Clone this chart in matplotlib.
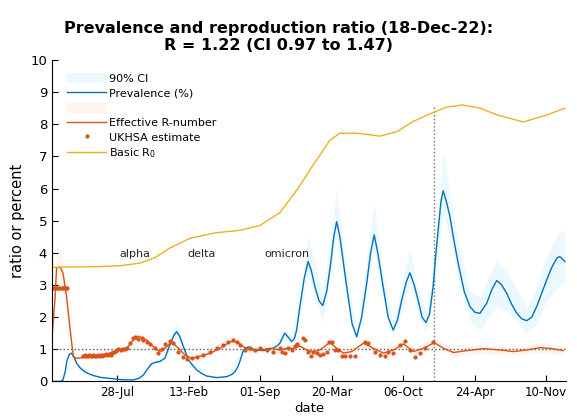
import numpy as np
import matplotlib
matplotlib.use('Agg')
import matplotlib.pyplot as plt
import matplotlib.dates as mdates
from matplotlib.patches import Patch
from matplotlib.lines import Line2D

# x values are days since 01-Jan-2020
prev_days = [26, 50, 57, 63, 68, 75, 81, 88, 96, 105, 118, 133, 147, 161, 185, 208, 230, 254,
             270, 282, 293, 305, 317, 328, 342, 355, 368, 375, 383, 394, 408, 420, 431, 445,
             459, 487, 515, 530, 538, 546, 552, 562, 576, 594, 618, 646, 658, 664, 672, 678,
             687, 697, 705, 711, 720, 732, 743, 752, 762, 774, 784, 795, 805, 815, 823, 832,
             851, 866, 879, 893, 907, 918, 928, 938, 953, 967, 981, 993, 1005, 1018, 1028,
             1040, 1051, 1062, 1073, 1083, 1093, 1100, 1108, 1115, 1121, 1130, 1140, 1151,
             1163, 1180, 1196, 1210, 1224, 1243, 1257, 1271, 1285, 1299, 1313, 1327, 1341,
             1355, 1369, 1383, 1397, 1411, 1425, 1440, 1448, 1462]
prev = [0.0, 0.0, 0.05, 0.3, 0.65, 0.85, 0.88, 0.75, 0.55, 0.42, 0.3, 0.22, 0.17, 0.13, 0.1,
        0.07, 0.05, 0.05, 0.1, 0.2, 0.38, 0.55, 0.6, 0.62, 0.72, 1.1, 1.45, 1.55, 1.42, 1.08,
        0.67, 0.5, 0.36, 0.25, 0.17, 0.12, 0.15, 0.22, 0.3, 0.45, 0.62, 0.98, 1.08, 0.98, 0.96,
        1.04, 1.12, 1.19, 1.38, 1.5, 1.38, 1.24, 1.35, 1.6, 2.33, 3.2, 3.73, 3.45, 2.95, 2.5,
        2.36, 2.8, 3.57, 4.5, 4.97, 4.5, 2.95, 1.8, 1.39, 2.0, 3.05, 4.0, 4.56, 4.0, 2.95, 2.0,
        1.6, 1.9, 2.53, 3.1, 3.38, 3.0, 2.53, 2.0, 1.83, 2.1, 2.95, 3.9, 4.81, 5.6, 5.93, 5.6,
        5.13, 4.4, 3.68, 2.8, 2.33, 2.15, 2.12, 2.43, 2.85, 3.14, 3.0, 2.74, 2.4, 2.12, 1.95,
        1.89, 2.0, 2.33, 2.75, 3.16, 3.55, 3.85, 3.88, 3.73]

ci_days = [26, 57, 81, 105, 160, 254, 305, 342, 375, 408, 459, 515, 562, 594, 646, 678, 697,
           720, 743, 784, 823, 851, 879, 928, 953, 981, 1028, 1051, 1073, 1093, 1121, 1140,
           1163, 1196, 1224, 1271, 1299, 1355, 1383, 1411, 1448, 1462]
prev_lo = [0, 0.03, 0.8, 0.38, 0.11, 0.04, 0.5, 0.65, 1.38, 0.6, 0.15, 0.13, 0.88, 0.9, 0.95,
           1.35, 1.1, 2.1, 3.3, 1.86, 4.5, 2.6, 1.2, 4.1, 2.6, 1.4, 3.0, 2.2, 1.5, 2.6, 5.2,
           4.5, 3.2, 1.9, 1.6, 2.33, 2.2, 1.5, 1.8, 2.5, 3.0, 3.1]
prev_hi = [0, 0.08, 0.97, 0.47, 0.15, 0.06, 0.62, 0.8, 1.86, 0.75, 0.2, 0.17, 1.1, 1.06, 1.12,
           1.7, 1.38, 2.6, 4.5, 2.7, 6.0, 3.4, 1.6, 5.5, 3.4, 1.85, 4.1, 2.9, 2.15, 3.4, 7.15,
           5.9, 4.3, 2.8, 2.64, 3.8, 3.4, 2.33, 2.9, 3.9, 4.69, 4.6]

r_days = [27, 35, 39, 49, 57, 67, 77, 86, 95, 133, 161, 179, 197, 217, 235, 254, 268, 291,
          310, 329, 347, 361, 380, 399, 417, 441, 469, 497, 525, 543, 562, 581, 609, 637, 664,
          683, 702, 720, 739, 758, 776, 804, 823, 842, 865, 898, 926, 954, 982, 1010, 1038,
          1066, 1096, 1122, 1150, 1187, 1234, 1280, 1318, 1355, 1392, 1420, 1457]
r_eff = [1.5, 2.64, 3.53, 3.56, 3.37, 2.64, 1.6, 0.77, 0.72, 0.76, 0.79, 0.82, 0.93, 1.01,
         1.03, 1.29, 1.41, 1.29, 1.08, 0.93, 1.08, 1.24, 1.03, 0.82, 0.72, 0.79, 0.88, 1.03,
         1.24, 1.24, 1.08, 0.98, 0.98, 1.03, 0.98, 1.03, 1.03, 1.1, 0.98, 0.93, 0.98, 1.21,
         1.03, 0.88, 0.93, 1.19, 1.03, 0.88, 0.98, 1.17, 0.93, 1.03, 1.21, 1.03, 0.9, 0.96,
         1.02, 0.98, 0.93, 0.98, 1.05, 1.03, 0.96]

rci_days = [27, 35, 39, 49, 57, 67, 77, 86, 133, 197, 235, 268, 310, 329, 361, 398, 441, 524,
            543, 580, 664, 720, 757, 804, 841, 898, 953, 1010, 1037, 1095, 1150, 1233, 1318,
            1392, 1457]
r_lo = [1.2, 2.2, 2.9, 3.0, 2.9, 2.2, 1.3, 0.68, 0.7, 0.85, 0.93, 1.25, 0.95, 0.83, 1.1, 0.72,
        0.7, 1.1, 1.1, 0.88, 0.88, 0.98, 0.83, 1.08, 0.78, 1.06, 0.78, 1.05, 0.83, 1.08, 0.78,
        0.88, 0.8, 0.9, 0.82]
r_hi = [2.0, 3.2, 4.25, 4.1, 3.8, 3.0, 1.9, 0.88, 0.85, 1.02, 1.15, 1.6, 1.2, 1.03, 1.38, 0.93,
        0.88, 1.4, 1.38, 1.08, 1.08, 1.25, 1.03, 1.35, 0.98, 1.32, 0.98, 1.3, 1.03, 1.36, 1.02,
        1.16, 1.06, 1.2, 1.1]

ukhsa_days = [29, 33, 37, 41, 45, 49, 53, 57, 61, 65, 68,
              114, 118, 122, 126, 130, 134, 138, 142, 146, 150, 154, 158, 162, 166, 170, 174,
              178, 182, 186, 190, 194, 200, 206, 212, 218, 224, 230, 236, 244, 254, 258, 267,
              277, 281, 291, 300, 314, 324, 333, 342, 356, 366, 380, 394, 403, 417, 431, 450,
              468, 487, 506, 520, 534, 543, 552, 566, 580, 594, 608, 627, 646, 664, 669, 678,
              687, 697, 706, 711, 730, 734, 744, 750, 758, 767, 776, 786, 795, 802, 809, 818,
              828, 837, 847, 861, 875, 903, 912, 930, 945, 959, 968, 982, 1000, 1014, 1028,
              1042, 1056, 1070, 1093]
ukhsa = [2.9, 2.9, 2.9, 2.9, 2.9, 2.9, 2.9, 2.9, 2.9, 2.9, 2.9,
         0.8, 0.82, 0.78, 0.8, 0.82, 0.79, 0.8, 0.81, 0.78, 0.8, 0.82, 0.8, 0.83, 0.8, 0.82,
         0.81, 0.84, 0.82, 0.86, 0.83, 0.88, 0.92, 0.95, 1.0, 0.98, 1.02, 1.0, 1.03, 1.2, 1.35,
         1.38, 1.32, 1.35, 1.28, 1.22, 1.15, 1.03, 0.9, 1.0, 1.15, 1.25, 1.2, 0.92, 0.76, 0.69,
         0.72, 0.76, 0.82, 0.92, 1.03, 1.13, 1.24, 1.29, 1.24, 1.13, 0.98, 1.03, 0.98, 1.03,
         0.98, 0.93, 1.03, 0.93, 0.88, 1.03, 0.98, 1.1, 1.15, 1.35, 1.29, 0.93, 0.79, 0.93,
         0.9, 0.82, 0.85, 0.93, 1.24, 1.24, 0.98, 0.98, 0.79, 0.79, 0.79, 0.79, 1.24, 1.19,
         0.93, 0.82, 0.79, 0.93, 0.9, 1.13, 1.25, 0.98, 0.77, 0.87, 1.03, 1.23]

r0_days = [26, 80, 150, 217, 273, 314, 356, 412, 482, 552, 608, 636, 664, 712, 757, 804, 832,
           880, 944, 992, 1036, 1092, 1131, 1174, 1224, 1272, 1345, 1412, 1462]
r0 = [3.55, 3.56, 3.57, 3.6, 3.68, 3.85, 4.15, 4.45, 4.62, 4.7, 4.85, 5.05, 5.25, 5.96, 6.73,
      7.5, 7.72, 7.72, 7.63, 7.77, 8.08, 8.36, 8.53, 8.6, 8.5, 8.29, 8.07, 8.29, 8.5]

tick_dates = ['2020-07-28', '2021-02-13', '2021-09-01', '2022-03-20', '2022-10-06',
              '2023-04-24', '2023-11-10']
variants = ['alpha', 'delta', 'omicron']
variant_days = [216, 404, 620]
today_day = 1095


def to_date(days):
    return np.datetime64('2020-01-01') + np.array(days).astype('timedelta64[D]')


c_blue = '#0072BD'
c_orange = '#D95319'
c_yellow = '#EDB120'
c_blue_ci = '#EBF8FD'
c_orange_ci = '#FEF5EF'

fig = plt.figure(figsize=(5.77, 4.16), dpi=100)
ax = fig.add_axes([0.090, 0.083, 0.891, 0.773])

ax.fill_between(to_date(ci_days), prev_lo, prev_hi, color=c_blue_ci, lw=0)
ax.fill_between(to_date(rci_days), r_lo, r_hi, color=c_orange_ci, lw=0)
ax.axhline(1, color='0.35', ls=':', lw=1)
ax.plot(to_date([today_day, today_day]), [0, 8.6], color='0.45', ls=':', lw=1)
ax.plot(to_date(prev_days), prev, color=c_blue, lw=1)
ax.plot(to_date(r_days), r_eff, color=c_orange, lw=1)
ax.plot(to_date(ukhsa_days), ukhsa, '.', color=c_orange, ms=4)
ax.plot(to_date(r0_days), r0, color=c_yellow, lw=1)

for name, d in zip(variants, variant_days):
    ax.text(to_date([d])[0], 3.97, name, fontsize=8, va='center', ha='left', color='0.15')

ax.set_xlim(to_date([26])[0], to_date([1465])[0])
ax.set_ylim(0, 10)
ax.set_yticks(range(11))
ax.set_xticks([np.datetime64(d) for d in tick_dates])
ax.xaxis.set_major_formatter(mdates.DateFormatter('%d-%b'))
ax.tick_params(direction='in', labelsize=8.5, length=4, width=0.8)
ax.tick_params(axis='y', labelsize=9.5)
for s in ['top', 'right']:
    ax.spines[s].set_visible(False)
ax.set_xlabel('date', fontsize=9.5, labelpad=2)
ax.set_ylabel('ratio or percent', fontsize=10.5, labelpad=4)
ax.set_title('Prevalence and reproduction ratio (18-Dec-22):\nR = 1.22 (CI 0.97 to 1.47)',
             fontsize=11.5, fontweight='bold', pad=7, x=0.44)

handles = [Patch(facecolor=c_blue_ci, edgecolor='none'),
           Line2D([], [], color=c_blue, lw=1),
           Patch(facecolor=c_orange_ci, edgecolor='none'),
           Line2D([], [], color=c_orange, lw=1),
           Line2D([], [], color=c_orange, marker='.', ls='none', ms=4),
           Line2D([], [], color=c_yellow, lw=1)]
labels = ['90% CI', 'Prevalence (%)', '', 'Effective R-number', 'UKHSA estimate', 'Basic R$_0$']
ax.legend(handles, labels, loc='upper left', bbox_to_anchor=(0.021, 0.972), borderaxespad=0,
          frameon=False, fontsize=8, handlelength=3.5, handleheight=1.0, labelspacing=0.35,
          handletextpad=0.3)

fig.savefig('out.png', dpi=100)
